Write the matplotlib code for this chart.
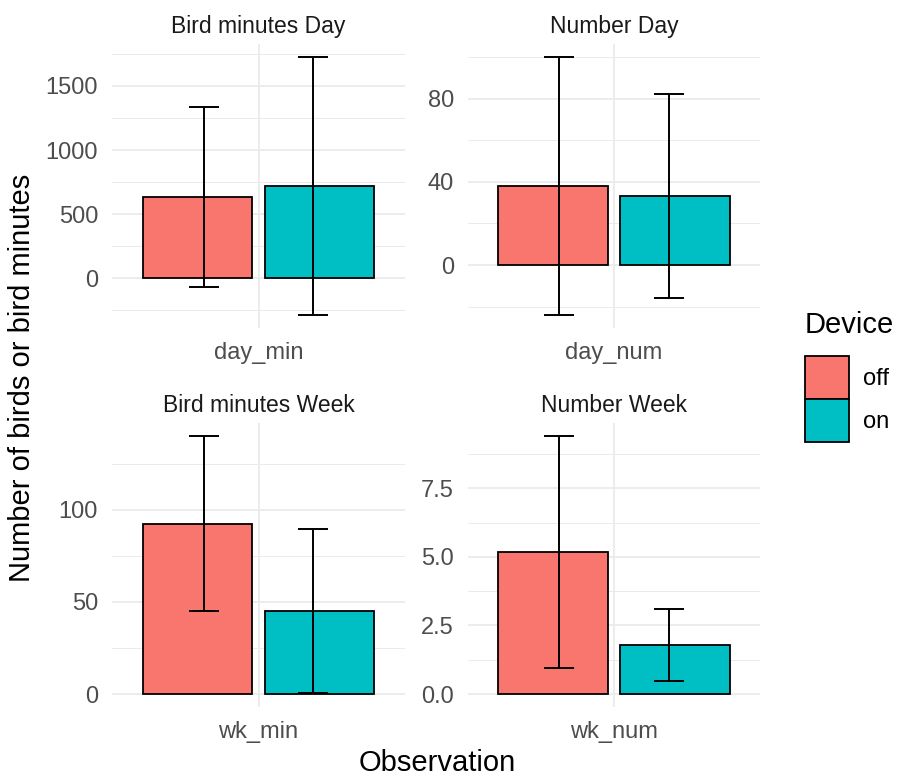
import matplotlib
matplotlib.use("Agg")
import matplotlib.pyplot as plt
from matplotlib.patches import Patch

plt.rcParams['font.family'] = ['Liberation Sans', 'DejaVu Sans']

# Data (mean and sd per device)
observation = ['day_min', 'day_num', 'wk_min', 'wk_num']
panel_titles = ['Bird minutes Day', 'Number Day', 'Bird minutes Week', 'Number Week']
off_mean = [633, 38, 92.5, 5.18]
off_sd = [700, 62, 47.5, 4.23]
on_mean = [719, 33, 45, 1.79]
on_sd = [1008, 49, 44.5, 1.3]
major_ticks = [[0, 500, 1000, 1500], [0, 40, 80], [0, 50, 100], [0, 2.5, 5.0, 7.5]]
tick_labels = [['0', '500', '1000', '1500'], ['0', '40', '80'], ['0', '50', '100'],
               ['0.0', '2.5', '5.0', '7.5']]
devices = ['off', 'on']
colors = {'off': '#F8766D', 'on': '#00BFC4'}

W, H = 898, 780
fig = plt.figure(figsize=(W / 100, H / 100), dpi=100)

# panel boxes in pixels: left, top, right, bottom
boxes = [(112, 44, 405, 328), (468, 44, 760, 328),
         (112, 423, 405, 707), (468, 423, 760, 707)]

grid_col = '#EBEBEB'
for i, (l, t, r, b) in enumerate(boxes):
    ax = fig.add_axes([l / W, 1 - b / H, (r - l) / W, (b - t) / H])
    means = [off_mean[i], on_mean[i]]
    sds = [off_sd[i], on_sd[i]]

    # bars dodged by 0.5, error bars dodged by 0.45
    for j, dev in enumerate(devices):
        bx = -0.25 if j == 0 else 0.25
        ex = -0.225 if j == 0 else 0.225
        ax.bar(bx, means[j], width=0.45, color=colors[dev], edgecolor='black',
               linewidth=1.3, zorder=3)
        ax.errorbar(ex, means[j], yerr=sds[j], fmt='none', ecolor='black',
                    elinewidth=1.4, capsize=11, capthick=1.4, zorder=4)

    lo = min(0, min(m - s for m, s in zip(means, sds)))
    hi = max(m + s for m, s in zip(means, sds))
    pad = (hi - lo) * 0.05
    ax.set_ylim(lo - pad, hi + pad)
    ax.set_xlim(-0.6, 0.6)

    ticks = major_ticks[i]
    step = ticks[1] - ticks[0]
    minors = [ticks[0] - step / 2 + k * step for k in range(len(ticks) + 1)]
    for y in minors:
        ax.axhline(y, color=grid_col, lw=0.7, zorder=0)
    for y in ticks:
        ax.axhline(y, color=grid_col, lw=1.3, zorder=0)
    ax.axvline(0, color=grid_col, lw=1.3, zorder=0)

    ax.set_yticks(ticks)
    ax.set_yticklabels(tick_labels[i])
    ax.set_xticks([0])
    ax.set_xticklabels([observation[i]])
    ax.tick_params(axis='y', length=0, labelsize=17, labelcolor='#4D4D4D', pad=10)
    ax.tick_params(axis='x', length=0, labelsize=17, labelcolor='#4D4D4D', pad=10)
    for s in ax.spines.values():
        s.set_visible(False)
    ax.set_title(panel_titles[i], fontsize=16.5, color='#1A1A1A', pad=8)

fig.text(437 / W, 1 - 763 / H, 'Observation', ha='center', va='center', fontsize=21)
fig.text(22 / W, 1 - 378 / H, 'Number of birds or bird minutes', ha='center',
         va='center', rotation=90, fontsize=21)

handles = [Patch(facecolor=colors[d], edgecolor='black', linewidth=1.3) for d in devices]
leg = fig.legend(handles, devices, loc='upper left', bbox_to_anchor=(805 / W, 1 - 311 / H),
                 frameon=False, fontsize=17, title='Device', title_fontsize=21,
                 handlelength=1.85, handleheight=2.45, labelspacing=0.0,
                 handletextpad=0.6, borderaxespad=0, borderpad=0)
leg._legend_box.align = 'left'
leg._legend_box.sep = 12

fig.savefig('out.png', dpi=100)
